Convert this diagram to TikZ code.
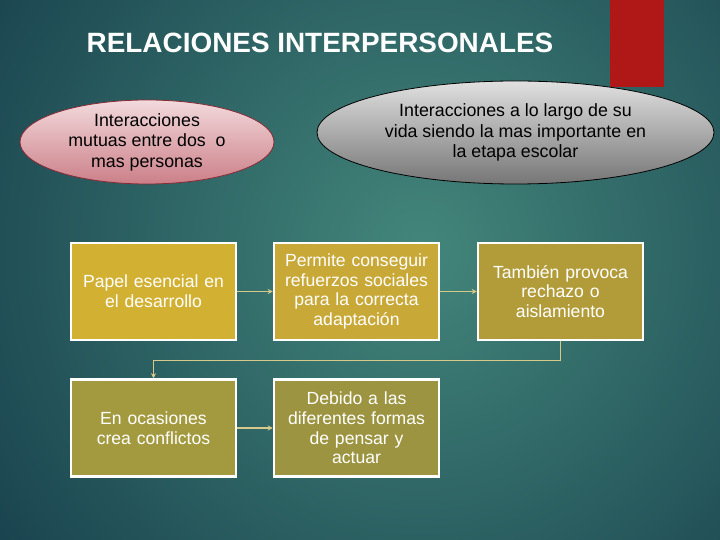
\documentclass[tikz,border=0pt]{standalone}
\usepackage{fontspec}
\setmainfont{Liberation Sans}
\usetikzlibrary{shapes.geometric,arrows.meta}
\definecolor{bgdark}{HTML}{113646}
\definecolor{bglight}{HTML}{43867B}
\definecolor{redbar}{HTML}{B01818}
\definecolor{boxA}{HTML}{D2B032}
\definecolor{boxB}{HTML}{C8A836}
\definecolor{boxC}{HTML}{B29C3A}
\definecolor{boxD}{HTML}{A39A40}
\definecolor{boxE}{HTML}{9C9440}
\definecolor{conn}{HTML}{D6C98A}
\definecolor{pinktop}{HTML}{F2DADC}
\definecolor{pinkbot}{HTML}{CC7F88}
\definecolor{pinkborder}{HTML}{8A2A36}
\definecolor{graytop}{HTML}{E0E0E0}
\definecolor{graybot}{HTML}{767676}
\tikzset{
  stepbox/.style={draw=white, line width=2.5pt, minimum width=165pt, minimum height=97pt,
    text width=160pt, align=center, text=white, font=\fontsize{17.6}{19.6}\selectfont, inner sep=0pt},
  conarrow/.style={draw=conn, line width=1.4pt, -{Stealth[length=5pt,width=5pt]}},
  ovalnode/.style={ellipse, align=center, font=\fontsize{17.8}{20.5}\selectfont, text=black, inner sep=0pt}
}
\begin{document}
\begin{tikzpicture}[x=1pt,y=-1pt]
\useasboundingbox (0,0) rectangle (720,540);
\begin{scope}
\clip (0,0) rectangle (720,540);
\fill[bgdark] (0,0) rectangle (720,540);
\shade[inner color=bglight, outer color=bgdark] (420,250) circle (620);
\end{scope}
\fill[redbar] (610,0) rectangle (664,87);
\node[text=white] (title) at (320,43) {\fontsize{27.9}{30}\selectfont\bfseries RELACIONES INTERPERSONALES};
\node[ovalnode, minimum width=254pt, minimum height=84pt, top color=pinktop, bottom color=pinkbot, draw=pinkborder, line width=0.8pt] (o1) at (147,142)
  {Interacciones\\mutuas entre dos~ o\\mas personas};
\node[ovalnode, minimum width=397pt, minimum height=103pt, top color=graytop, bottom color=graybot, draw=black, line width=0.8pt] (o2) at (515.5,132.5)
  {Interacciones a lo largo de su\\vida siendo la mas importante en\\la etapa escolar};
\node[stepbox, fill=boxA] (a) at (153.5,291.5) {Papel esencial en\\el desarrollo};
\node[stepbox, fill=boxB] (b) at (356.5,291.5) {Permite conseguir\\refuerzos sociales\\para la correcta\\adaptación};
\node[stepbox, fill=boxC] (c) at (560.5,291.5) {También provoca\\rechazo o\\aislamiento};
\node[stepbox, fill=boxD] (d) at (153.5,428) {En ocasiones\\crea conflictos};
\node[stepbox, fill=boxE] (e) at (356.5,428) {Debido a las\\diferentes formas\\de pensar y\\actuar};
\draw[conarrow] (a.east) -- (b.west);
\draw[conarrow] (b.east) -- (c.west);
\draw[conarrow] (d.east) -- (e.west);
\draw[conarrow] (c.south) -- ++(0,19) -| (d.north);
\end{tikzpicture}
\end{document}
